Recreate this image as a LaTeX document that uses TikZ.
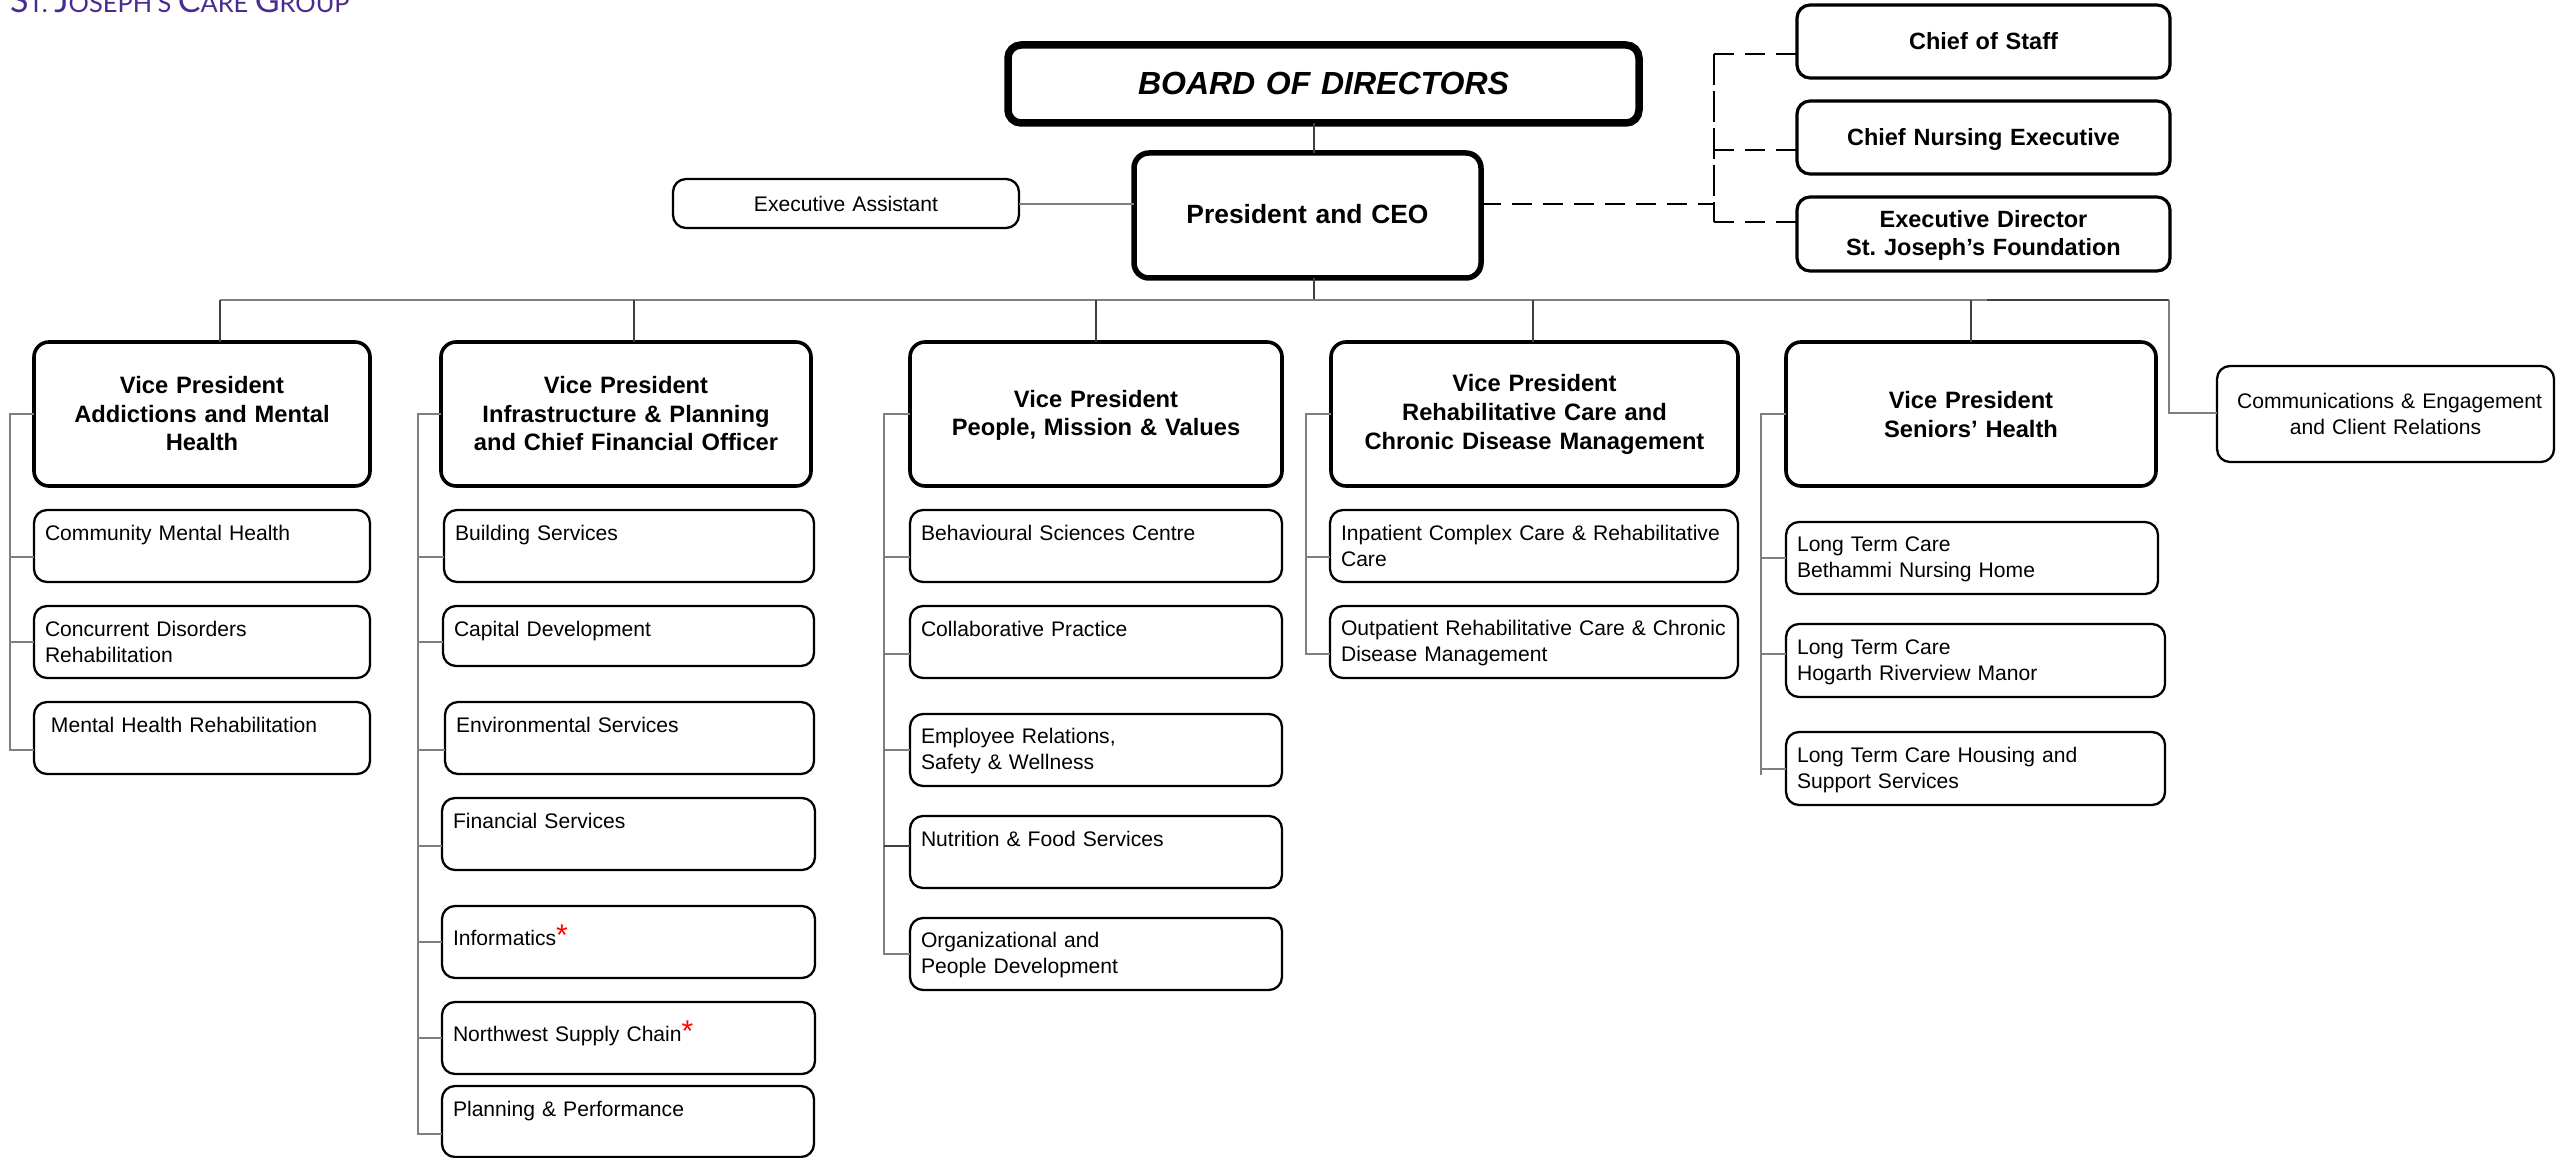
\documentclass[tikz,border=0pt]{standalone}
\usepackage{fontspec}
\setmainfont{Liberation Sans}
\newfontfamily\logofont{Lato}
\definecolor{logopurple}{HTML}{4A2C90}
\definecolor{conngray}{HTML}{7F7F7F}
\definecolor{conndark}{HTML}{404040}
\tikzset{
  x=1pt,y=-1pt,
  basebox/.style={draw=black,fill=white,rounded corners=13pt,inner sep=0pt,outer sep=0pt,text=black},
  subbox/.style={basebox,line width=2.3pt,font=\frenchspacing\fontsize{21.1}{26}\selectfont,align=left},
  thinbox/.style={basebox,line width=2.3pt,font=\frenchspacing\fontsize{21.1}{26}\selectfont,align=center},
  staffbox/.style={basebox,line width=3.2pt,font=\frenchspacing\bfseries\fontsize{23.5}{28.7}\selectfont,align=center},
  vpbox/.style={basebox,line width=3.6pt,rounded corners=15pt,font=\frenchspacing\bfseries\fontsize{23.7}{28.7}\selectfont,align=center},
  ceobox/.style={basebox,line width=5.5pt,rounded corners=15pt,font=\bfseries\fontsize{26.4}{30}\selectfont,align=center},
  boardbox/.style={basebox,line width=7.5pt,rounded corners=13pt,font=\bfseries\itshape\fontsize{32}{36}\selectfont,align=center},
  conn/.style={draw=conngray,line width=1.8pt},
  connthin/.style={draw=conndark,line width=1.5pt},
  conndk/.style={draw=conndark,line width=2pt},
  dashh/.style={draw=black,line width=2.4pt,dash pattern=on 20pt off 11pt},
  dashv/.style={draw=black,line width=1.5pt,dash pattern=on 31pt off 6pt},
}
% name, x1, y1, x2, y2, style, text
\newcommand{\bx}[7]{%
  \pgfmathsetmacro{\bw}{#4-#2}\pgfmathsetmacro{\bh}{#5-#3}%
  \pgfmathsetmacro{\cx}{(#2+#4)/2}\pgfmathsetmacro{\cy}{(#3+#5)/2}%
  \node[#6,minimum width=\bw pt,minimum height=\bh pt,text width=\bw pt] (#1) at (\cx,\cy) {#7};%
}
% left-aligned two-line text: indent, line 1, line 2
\newcommand{\twol}[3]{\hspace*{#1pt}\rule{0pt}{18pt}\mbox{#2}\\\hspace*{#1pt}\mbox{#3}\rule[-3pt]{0pt}{3pt}}
% left-aligned raised single line with a red star
\newcommand{\starl}[2]{\hspace*{#1pt}\rule{0pt}{17pt}\mbox{#2}{\color{red}\fontsize{30}{26}\selectfont\smash{*}}\rule[-11pt]{0pt}{11pt}}
\newcommand{\bstrut}{\rule{0pt}{20pt}}
\newcommand{\tstrut}{\rule{0pt}{18pt}}
\newcommand{\estrut}{\rule[-2pt]{0pt}{2pt}}
\newcommand{\branch}[3]{\coordinate (tb) at (#1,#2); \draw[conn] (tb) -- (tb -| #3.west);}
\newcommand{\dropto}[2]{\coordinate (td) at (#1,300); \draw[connthin] (td) -- (td |- #2.north);}
\begin{document}
\begin{tikzpicture}
\useasboundingbox (0,0) rectangle (2566,1158);
% logo, cut by the top edge of the page
\node[anchor=base west,inner sep=0pt,text=logopurple] (logo) at (10,13)
  {\logofont\fontsize{25.4}{30}\selectfont{\fontsize{34}{30}\selectfont S}T. {\fontsize{34}{30}\selectfont J}OSEPH’S {\fontsize{34}{30}\selectfont C}ARE {\fontsize{34}{30}\selectfont G}ROUP};
% coordinates of the connector skeleton
\coordinate (busL) at (220,300);
\coordinate (busR) at (2169,300);
\coordinate (busD) at (1987,300);
\coordinate (cb) at (1314,300);
\coordinate (dv) at (1714,204);
% top boxes
\bx{board}{1008}{45}{1639}{123}{boardbox}{\rule{0pt}{25.5pt}BOARD OF DIRECTORS\rule[-3.5pt]{0pt}{3.5pt}}
\bx{ceo}{1134}{153}{1481}{278}{ceobox}{\rule{0pt}{21pt}President and CEO\rule[-5pt]{0pt}{5pt}}
\bx{ea}{673}{179}{1019}{228}{thinbox}{Executive Assistant}
\bx{cos}{1797}{5}{2170}{78}{staffbox}{\bstrut Chief of Staff\rule[-3pt]{0pt}{3pt}}
\bx{cne}{1797}{101}{2170}{174}{staffbox}{\bstrut Chief Nursing Executive\rule[-3pt]{0pt}{3pt}}
\bx{edf}{1797}{197}{2170}{271}{staffbox}{\bstrut Executive Director\\St. Joseph’s Foundation\estrut}
\bx{comms}{2217}{366}{2554}{462}{thinbox}{\hspace*{8pt}Communications \& Engagement\\and Client Relations}
% vice presidents
\bx{vpa}{34}{342}{370}{486}{vpbox}{\tstrut Vice President\\Addictions and Mental\\Health\estrut}
\bx{vpb}{441}{342}{811}{486}{vpbox}{\tstrut Vice President\\Infrastructure \& Planning\\and Chief Financial Officer\estrut}
\bx{vpc}{910}{342}{1282}{486}{vpbox}{\bstrut Vice President\\People, Mission \& Values\estrut}
\bx{vpd}{1331}{342}{1738}{486}{vpbox}{\tstrut Vice President\\Rehabilitative Care and\\Chronic Disease Management\estrut}
\bx{vpe}{1786}{342}{2156}{486}{vpbox}{\bstrut Vice President\\Seniors’ Health\estrut}
% column 1
\bx{a1}{34}{510}{370}{582}{subbox}{\twol{11}{Community Mental Health}{}}
\bx{a2}{34}{606}{370}{678}{subbox}{\twol{11}{Concurrent Disorders}{Rehabilitation}}
\bx{a3}{34}{702}{370}{774}{subbox}{\twol{17}{Mental Health Rehabilitation}{}}
% column 2
\bx{b1}{444}{510}{814}{582}{subbox}{\twol{11}{Building Services}{}}
\bx{b2}{443}{606}{814}{666}{subbox}{\hspace*{11pt}\rule{0pt}{17pt}Capital Development\rule[-17pt]{0pt}{17pt}}
\bx{b3}{445}{702}{814}{774}{subbox}{\twol{11}{Environmental Services}{}}
\bx{b4}{442}{798}{815}{870}{subbox}{\twol{11}{Financial Services}{}}
\bx{b5}{442}{906}{815}{978}{subbox}{\starl{11}{Informatics}}
\bx{b6}{442}{1002}{815}{1074}{subbox}{\starl{11}{Northwest Supply Chain}}
\bx{b7}{442}{1086}{814}{1157}{subbox}{\twol{11}{Planning \& Performance}{}}
% column 3
\bx{c1}{910}{510}{1282}{582}{subbox}{\twol{11}{Behavioural Sciences Centre}{}}
\bx{c2}{910}{606}{1282}{678}{subbox}{\twol{11}{Collaborative Practice}{}}
\bx{c3}{910}{714}{1282}{786}{subbox}{\twol{11}{Employee Relations,}{Safety \& Wellness}}
\bx{c4}{910}{816}{1282}{888}{subbox}{\twol{11}{Nutrition \& Food Services}{}}
\bx{c5}{910}{918}{1282}{990}{subbox}{\twol{11}{Organizational and}{People Development}}
% column 4
\bx{d1}{1330}{510}{1738}{582}{subbox}{\twol{11}{Inpatient Complex Care \& Rehabilitative}{Care}}
\bx{d2}{1330}{606}{1738}{678}{subbox}{\twol{11}{Outpatient Rehabilitative Care \& Chronic}{Disease Management}}
% column 5
\bx{e1}{1786}{522}{2158}{594}{subbox}{\twol{11}{Long Term Care}{Bethammi Nursing Home}}
\bx{e2}{1786}{624}{2165}{697}{subbox}{\twol{11}{Long Term Care}{Hogarth Riverview Manor}}
\bx{e3}{1786}{732}{2165}{805}{subbox}{\twol{11}{Long Term Care Housing and}{Support Services}}
% top connectors
\draw[connthin] (board.south -| cb) -- (ceo.north -| cb);
\draw[connthin] (ceo.south -| cb) -- (cb);
\coordinate (eam) at (ceo.west |- dv);
\draw[conn] (ea.east |- eam) -- (eam);
\draw[dashh] (ceo.east |- dv) -- (dv);
\coordinate (dt) at (1714,54);
\coordinate (dm) at (1714,150);
\coordinate (de) at (1714,222);
\draw[dashv] (dt) -- (de);
\draw[dashh] (dt) -- (dt -| cos.west);
\draw[dashh] (dm) -- (dm -| cne.west);
\draw[dashh] (de) -- (de -| edf.west);
% bus
\draw[conn] (busL) -- (busR);
\draw[conndk] (busD) -- (busR);
\dropto{220}{vpa}
\dropto{634}{vpb}
\dropto{1096}{vpc}
\dropto{1533}{vpd}
\dropto{1971}{vpe}
\coordinate (cr) at (2169,413);
\draw[conn] (busR) -- (cr) -- (cr -| comms.west);
% brackets
\coordinate (ka) at (10,750);
\coordinate (kb) at (418,1134);
\coordinate (kc) at (884,954);
\coordinate (kd) at (1306,654);
\coordinate (ke) at (1761,775);
\draw[conn] (vpa.west) -| (ka) -- (ka -| a3.west);
\draw[conn] (vpb.west) -| (kb) -- (kb -| b7.west);
\draw[conn] (vpc.west) -| (kc) -- (kc -| c5.west);
\draw[conn] (vpd.west) -| (kd) -- (kd -| d2.west);
\draw[conn] (vpe.west) -| (ke);
\branch{10}{557}{a1}
\branch{10}{642}{a2}
\branch{418}{557}{b1}
\branch{418}{642}{b2}
\branch{418}{750}{b3}
\branch{418}{846}{b4}
\branch{418}{942}{b5}
\branch{418}{1038}{b6}
\branch{884}{557}{c1}
\branch{884}{654}{c2}
\branch{884}{750}{c3}
\coordinate (tn) at (884,846); \draw[conndk] (tn) -- (tn -| c4.west);
\branch{1306}{557}{d1}
\branch{1761}{558}{e1}
\branch{1761}{654}{e2}
\branch{1761}{769}{e3}
\end{tikzpicture}
\end{document}
